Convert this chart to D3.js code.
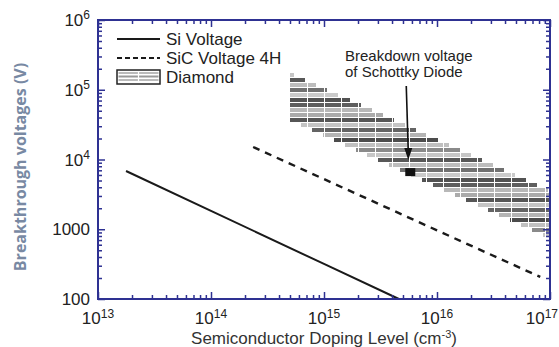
<!DOCTYPE html>
<html><head><meta charset="utf-8">
<script src="https://cdn.jsdelivr.net/npm/d3@7"></script>
<style>body{margin:0;background:#fff}svg{display:block}</style>
</head><body><svg id="c" width="559" height="347"></svg>
<script>
// ---- data ----
const xDomain = [1e13, 1e17];
const yDomain = [100, 1e6];
const xMajorTicks = [1e13, 1e14, 1e15, 1e16, 1e17];
const xTickExponents = ["13", "14", "15", "16", "17"];
const yMajorTicks = [100, 1000, 1e4, 1e5, 1e6];
const yTickBase = ["100", "1000", "10", "10", "10"];
const yTickExponents = ["", "", "4", "5", "6"];
const siDoping = [1.77e13, 1e14, 1e15, 4.6e15];
const siVoltage = [6840, 1835, 318, 100];
const sicDoping = [2.36e14, 1e15, 1e16, 8.2e16];
const sicVoltage = [15100, 5230, 964, 207];
const diamondDoping = [5e14, 1e17];
const diamondUpper = [1.74e5, 3530];
const diamondLower = [3.68e4, 750];
const schottkyDoping = [5.8e15];
const schottkyVoltage = [6600];
const legendLabels = ["Si Voltage", "SiC Voltage 4H", "Diamond"];
const annotationLines = ["Breakdown voltage", "of Schottky Diode"];
const xTitle = "Semiconductor Doping Level (cm";
const xTitleSup = "-3";
const xTitleEnd = ")";
const yTitle = "Breakthrough voltages (V)";

// ---- layout ----
const L = 98, R = 550, T = 20, B = 299;
const axisColor = "#2e3192";
const font = "'Liberation Sans', Arial, sans-serif";
const svg = d3.select("#c");
const x = d3.scaleLog().domain(xDomain).range([L, R]);
const y = d3.scaleLog().domain(yDomain).range([B, T]);

// ---- diamond band (stepped horizontal stripes) ----
const xl = x(diamondDoping[0]), xr = x(diamondDoping[1]);
const yU0 = y(diamondUpper[0]), yU1 = y(diamondUpper[1]);
const yL0 = y(diamondLower[0]), yL1 = y(diamondLower[1]);
const xAtUpper = yy => xl + (yy - yU0) / (yU1 - yU0) * (xr - xl);
const xAtLower = yy => xl + (yy - yL0) / (yL1 - yL0) * (xr - xl);
const shades = ["#c6c6c6","#585858","#bdbdbd","#707070","#cacaca","#525252","#5e5e5e","#b8b8b8","#ababab","#565656","#c4c4c4","#646464","#b4b4b4","#4c4c4c","#c0c0c0","#8a8a8a"];
const bandG = svg.append("g");
const rowStep = 5;
const rows = [];
for (let yy = Math.round(yU0); yy < yL1; yy += rowStep) {
  const c = yy + 2;
  const x0 = Math.round(Math.max(xl, xAtLower(c)));
  const x1 = Math.round(Math.min(xr, xAtUpper(c)));
  if (x1 - x0 > 2) rows.push({y: yy, x0, x1});
}
bandG.selectAll("rect").data(rows).join("rect")
  .attr("x", d => d.x0).attr("y", d => d.y)
  .attr("width", d => d.x1 - d.x0).attr("height", 4)
  .attr("fill", (d, i) => shades[i % shades.length]);
// vertical white gaps
const vx = d3.range(Math.round(xl) + 17.5, xr, 17);
bandG.selectAll("line").data(vx).join("line")
  .attr("x1", d => d).attr("x2", d => d)
  .attr("y1", d => yU0 + (d - xl) / (xr - xl) * (yU1 - yU0) - 3)
  .attr("y2", d => yL0 + (d - xl) / (xr - xl) * (yL1 - yL0) + 3)
  .attr("stroke", "#fff").attr("stroke-width", 1);

// ---- lines ----
const line = d3.line().x(d => x(d[0])).y(d => y(d[1]));
svg.append("path").datum(d3.zip(siDoping, siVoltage))
  .attr("d", line).attr("fill", "none").attr("stroke", "#1a1a1a").attr("stroke-width", 2);
svg.append("path").datum(d3.zip(sicDoping, sicVoltage))
  .attr("d", line).attr("fill", "none").attr("stroke", "#1a1a1a").attr("stroke-width", 2.4)
  .attr("stroke-dasharray", "7,6");

// ---- Schottky point + arrow ----
const sx = x(schottkyDoping[0]), sy = y(schottkyVoltage[0]);
svg.append("g").selectAll("rect").data(d3.zip(schottkyDoping, schottkyVoltage)).join("rect")
  .attr("x", d => x(d[0]) - 5).attr("y", d => y(d[1]) - 4)
  .attr("width", 10).attr("height", 8).attr("fill", "#111");
svg.append("line").attr("x1", sx - 4).attr("y1", 86).attr("x2", sx - 2).attr("y2", sy - 20)
  .attr("stroke", "#111").attr("stroke-width", 1.6);
svg.append("path")
  .attr("d", `M${sx - 6},${sy - 24} L${sx + 2},${sy - 24} L${sx - 2},${sy - 12} Z`)
  .attr("fill", "#111");
const ann = svg.append("text").attr("font-family", font).attr("font-size", 15).attr("fill", "#222");
annotationLines.forEach((t, i) => ann.append("tspan").attr("x", 345).attr("y", 61 + i * 15.5).text(t));

// ---- axes ----
function styleAxis(g) {
  g.select(".domain").remove();
  g.selectAll(".tick line").attr("stroke", axisColor).attr("stroke-width", 1.5);
  g.selectAll(".tick text").remove();
}
const xt = x.ticks();
const yt = y.ticks();
const isMajor = v => Math.abs(Math.log10(v) - Math.round(Math.log10(v))) < 1e-9;
const axB = svg.append("g").attr("transform", `translate(0,${B})`)
  .call(d3.axisBottom(x).tickValues(xt).tickSizeInner(-4).tickSizeOuter(0).tickFormat(""));
const axT = svg.append("g").attr("transform", `translate(0,${T})`)
  .call(d3.axisTop(x).tickValues(xt).tickSizeInner(-4).tickSizeOuter(0).tickFormat(""));
const axLf = svg.append("g").attr("transform", `translate(${L},0)`)
  .call(d3.axisLeft(y).tickValues(yt).tickSizeInner(-4).tickSizeOuter(0).tickFormat(""));
const axRt = svg.append("g").attr("transform", `translate(${R},0)`)
  .call(d3.axisRight(y).tickValues(yt).tickSizeInner(-4).tickSizeOuter(0).tickFormat(""));
[axB, axT, axLf, axRt].forEach(g => styleAxis(g));
axB.selectAll(".tick line").filter(d => isMajor(d)).attr("y2", -7);
axT.selectAll(".tick line").filter(d => isMajor(d)).attr("y2", 7);
axLf.selectAll(".tick line").filter(d => isMajor(d)).attr("x2", 7);
axRt.selectAll(".tick line").filter(d => isMajor(d)).attr("x2", -7);
svg.append("rect").attr("x", L).attr("y", T).attr("width", R - L).attr("height", B - T)
  .attr("fill", "none").attr("stroke", axisColor).attr("stroke-width", 2);

// tick labels
const xl_g = svg.append("g");
xMajorTicks.forEach((v, i) => {
  const last = i === xMajorTicks.length - 1;
  const t = xl_g.append("text").attr("x", last ? 558 : x(v)).attr("y", 324)
    .attr("text-anchor", last ? "end" : "middle")
    .attr("font-family", font).attr("font-size", 17).attr("fill", "#222");
  t.append("tspan").text("10");
  t.append("tspan").attr("dy", -6).attr("font-size", 12).text(xTickExponents[i]);
});
const yl_g = svg.append("g");
yMajorTicks.forEach((v, i) => {
  const t = yl_g.append("text").attr("x", 90).attr("y", y(v) + 6).attr("text-anchor", "end")
    .attr("font-family", font).attr("font-size", 17).attr("fill", "#222");
  t.append("tspan").text(yTickBase[i]);
  if (yTickExponents[i]) t.append("tspan").attr("dy", -7).attr("font-size", 12).text(yTickExponents[i]);
});

// axis titles
const xtT = svg.append("text").attr("x", (L + R) / 2).attr("y", 344).attr("text-anchor", "middle")
  .attr("font-family", font).attr("font-size", 17).attr("fill", "#333");
xtT.append("tspan").text(xTitle);
xtT.append("tspan").attr("dy", -6).attr("font-size", 11).text(xTitleSup);
xtT.append("tspan").attr("dy", 6).text(xTitleEnd);
svg.append("text").attr("transform", `translate(26,${167}) rotate(-90)`).attr("text-anchor", "middle")
  .attr("font-family", "'Open Sans', sans-serif").attr("font-weight", "bold").attr("font-size", 16)
  .attr("fill", "#7889a3").text(yTitle);

// ---- legend ----
const lg = svg.append("g");
lg.append("line").attr("x1", 117).attr("x2", 160).attr("y1", 39).attr("y2", 39)
  .attr("stroke", "#1a1a1a").attr("stroke-width", 2);
lg.append("line").attr("x1", 117).attr("x2", 160).attr("y1", 58).attr("y2", 58)
  .attr("stroke", "#1a1a1a").attr("stroke-width", 1.8).attr("stroke-dasharray", "5,3");
const box = lg.append("g");
box.append("rect").attr("x", 117).attr("y", 70).attr("width", 43).attr("height", 14)
  .attr("fill", "#fff").attr("stroke", "#222").attr("stroke-width", 1.5);
[73, 76.5, 80].forEach((yy, i) => box.append("rect").attr("x", 118.5).attr("y", yy - 1)
  .attr("width", 40).attr("height", 2).attr("fill", i === 1 ? "#999" : "#bbb"));
box.append("line").attr("x1", 138.5).attr("x2", 138.5).attr("y1", 71).attr("y2", 83)
  .attr("stroke", "#fff").attr("stroke-width", 1.2);
legendLabels.forEach((t, i) => lg.append("text").attr("x", 166).attr("y", 45 + i * 19)
  .attr("font-family", font).attr("font-size", 17).attr("fill", "#222").text(t));
</script></body></html>
